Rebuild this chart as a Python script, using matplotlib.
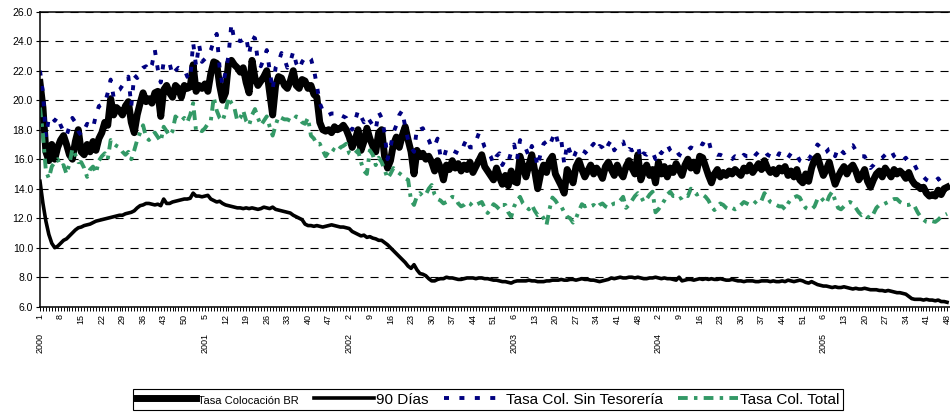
import numpy as np
import matplotlib.pyplot as plt
from matplotlib.transforms import blended_transform_factory

plt.rcParams['font.family'] = ['Liberation Sans', 'DejaVu Sans']
plt.rcParams['lines.scale_dashes'] = False

years = [2000, 2001, 2002, 2003, 2004, 2005]
weeks_per_year = [52, 52, 52, 53, 52, 48]

# weekly rates, one row block per year
tasa_br = [
    21.2, 19.5, 16.5, 15.9, 17.0, 16.0, 16.8, 17.3, 17.6, 17.0, 16.3, 16.0, 17.2, 18.0, 16.5, 16.3, 17.0, 16.5,
    17.2, 16.6, 17.4, 17.8, 18.5, 18.3, 20.1, 19.0, 19.5, 19.3, 19.0, 19.6, 19.9, 18.5, 17.8, 19.0, 19.8, 20.5,
    19.9, 20.1, 19.8, 20.5, 20.6, 18.9, 20.7, 21.0, 20.5, 20.2, 21.0, 20.8, 20.2, 21.0, 20.8, 20.9,
    22.4, 20.6, 21.0, 20.8, 21.1, 20.6, 21.8, 22.6, 22.5, 21.0, 20.0, 20.5, 22.5, 22.7, 22.4, 22.2, 21.9, 22.2,
    21.2, 20.5, 22.7, 21.5, 21.0, 21.3, 21.6, 22.0, 20.5, 19.0, 21.0, 21.6, 21.5, 21.0, 20.8, 21.3, 22.0, 21.0,
    20.8, 21.4, 21.3, 20.8, 21.0, 20.4, 20.2, 18.5, 18.0, 17.9, 18.0, 17.8, 18.2, 18.0, 18.1, 18.3,
    18.0, 17.5, 16.8, 17.3, 18.0, 16.6, 17.2, 18.1, 17.4, 16.9, 16.5, 17.8, 18.0, 16.2, 15.4, 15.9, 17.0, 17.5,
    16.8, 17.6, 18.2, 17.3, 16.5, 15.0, 16.6, 16.2, 16.4, 16.0, 16.2, 15.8, 15.2, 15.9, 15.4, 14.6, 15.6, 15.3,
    15.9, 15.4, 15.7, 15.2, 15.6, 15.3, 15.8, 15.1, 15.5, 15.9, 16.3, 15.5, 15.2, 14.9, 14.6, 15.4,
    14.8, 14.3, 14.9, 14.2, 15.2, 14.5, 14.4, 16.2, 15.5, 14.8, 15.6, 16.3, 15.2, 14.0, 15.0, 15.6, 15.1, 15.9,
    16.2, 15.0, 14.6, 14.2, 13.7, 15.3, 14.9, 14.4, 15.5, 15.9, 15.3, 14.8, 15.2, 15.6, 15.0, 15.4, 15.1, 14.7,
    15.5, 15.8, 15.3, 14.9, 15.6, 15.1, 14.8, 15.5, 15.9, 15.4, 15.0, 16.3, 14.6, 15.2, 15.6, 14.9, 15.3,
    14.4, 15.8, 15.0, 15.5, 14.8, 15.4, 15.1, 15.7, 15.3, 14.9, 15.6, 16.0, 15.4, 15.8, 15.2, 16.2, 16.1, 15.5,
    14.9, 14.4, 15.0, 15.3, 14.8, 15.1, 14.9, 15.2, 15.0, 15.3, 15.1, 14.9, 15.4, 15.2, 15.6, 15.1, 15.4, 15.7,
    15.3, 15.9, 15.4, 15.1, 15.3, 15.0, 15.4, 15.2, 15.5, 14.9, 15.2, 14.8, 15.3, 14.6, 14.4, 15.0,
    14.5, 15.4, 16.0, 16.2, 15.5, 14.9, 15.3, 15.8, 15.0, 14.3, 14.8, 15.2, 15.5, 15.0, 15.4, 15.6, 15.2, 14.6,
    14.9, 15.3, 14.5, 14.1, 14.6, 15.0, 15.2, 14.8, 15.4, 15.1, 14.8, 15.3, 15.0, 15.2, 15.0, 14.7, 15.1, 14.6,
    14.3, 14.2, 14.0, 14.1, 13.7, 13.5, 13.6, 13.5, 13.9, 13.6, 14.0, 14.1,
]

dtf_90 = [
    14.5, 13.0, 11.8, 10.9, 10.3, 10.0, 10.1, 10.3, 10.5, 10.6, 10.8, 11.0, 11.2, 11.35, 11.4, 11.5, 11.55, 11.6,
    11.7, 11.8, 11.85, 11.9, 11.95, 12.0, 12.05, 12.1, 12.15, 12.2, 12.2, 12.3, 12.35, 12.4, 12.5, 12.7, 12.85,
    12.9, 13.0, 13.0, 12.95, 12.9, 12.95, 12.85, 13.3, 13.0, 13.0, 13.1, 13.15, 13.2, 13.25, 13.3, 13.3, 13.35,
    13.7, 13.5, 13.5, 13.45, 13.5, 13.55, 13.3, 13.2, 13.1, 13.15, 13.0, 12.9, 12.85, 12.8, 12.75, 12.7, 12.7,
    12.65, 12.7, 12.65, 12.7, 12.65, 12.6, 12.65, 12.75, 12.7, 12.65, 12.75, 12.6, 12.55, 12.5, 12.45, 12.4,
    12.35, 12.2, 12.1, 12.0, 11.9, 11.6, 11.5, 11.5, 11.45, 11.5, 11.45, 11.4, 11.45, 11.5, 11.55, 11.5, 11.45,
    11.4, 11.4,
    11.35, 11.3, 11.1, 11.0, 10.9, 10.8, 10.85, 10.7, 10.75, 10.65, 10.6, 10.5, 10.5, 10.35, 10.2, 10.0, 9.8,
    9.6, 9.4, 9.2, 9.0, 8.75, 8.6, 8.85, 8.5, 8.25, 8.2, 8.1, 7.9, 7.75, 7.75, 7.85, 7.9, 7.9, 8.0, 7.95, 7.95,
    7.9, 7.85, 7.85, 7.9, 7.95, 7.95, 7.95, 7.9, 7.95, 7.95, 7.9, 7.9, 7.85, 7.8, 7.8,
    7.75, 7.7, 7.7, 7.65, 7.6, 7.7, 7.75, 7.75, 7.75, 7.75, 7.8, 7.75, 7.75, 7.7, 7.7, 7.7, 7.75, 7.75, 7.8,
    7.8, 7.8, 7.85, 7.8, 7.8, 7.85, 7.85, 7.8, 7.85, 7.9, 7.85, 7.85, 7.8, 7.8, 7.75, 7.7, 7.75, 7.8, 7.85,
    7.95, 7.9, 7.95, 8.0, 7.95, 7.95, 8.0, 8.0, 7.95, 8.0, 7.95, 7.9, 7.9, 7.95, 7.95,
    8.0, 7.95, 7.9, 7.95, 7.9, 7.9, 7.85, 7.8, 8.0, 7.75, 7.8, 7.85, 7.85, 7.8, 7.85, 7.9, 7.85, 7.9, 7.85,
    7.9, 7.85, 7.85, 7.9, 7.85, 7.8, 7.8, 7.85, 7.8, 7.75, 7.75, 7.7, 7.75, 7.75, 7.75, 7.7, 7.7, 7.75, 7.75,
    7.75, 7.7, 7.75, 7.7, 7.7, 7.75, 7.7, 7.8, 7.75, 7.7, 7.75, 7.8, 7.75, 7.65,
    7.6, 7.7, 7.6, 7.5, 7.45, 7.4, 7.4, 7.35, 7.3, 7.35, 7.3, 7.3, 7.35, 7.3, 7.25, 7.2, 7.25, 7.2, 7.2, 7.25,
    7.2, 7.15, 7.15, 7.15, 7.1, 7.1, 7.05, 7.1, 7.05, 7.0, 6.95, 6.95, 6.9, 6.85, 6.7, 6.55, 6.5, 6.5, 6.5,
    6.45, 6.5, 6.45, 6.45, 6.4, 6.45, 6.35, 6.35, 6.3,
]

sin_tesoreria = [
    22.0, 20.5, 17.5, 18.8, 18.9, 18.6, 18.9, 18.3, 17.9, 17.6, 18.2, 18.8, 18.5, 17.9, 17.6, 18.0, 18.4, 18.3,
    18.1, 19.0, 19.6, 19.7, 19.8, 20.5, 21.4, 20.2, 20.6, 20.7, 21.0, 21.3, 21.6, 19.6, 21.7, 21.5, 22.0, 22.2,
    22.3, 22.0, 22.4, 23.4, 22.1, 21.2, 22.6, 22.6, 22.5, 21.7, 22.0, 22.2, 22.1, 22.1, 21.6, 21.4,
    23.9, 22.3, 23.8, 22.6, 22.8, 23.0, 23.4, 24.0, 24.5, 22.2, 21.0, 21.9, 23.0, 25.2, 24.0, 24.1, 24.0, 24.1,
    24.3, 23.1, 24.3, 24.2, 22.6, 22.3, 22.8, 23.4, 22.0, 20.7, 22.2, 22.6, 23.2, 22.8, 22.2, 22.6, 23.3, 22.5,
    22.1, 22.6, 22.9, 23.0, 22.8, 22.1, 21.0, 19.8, 19.3, 19.0, 19.0, 19.1, 19.1, 18.9, 19.0, 18.9,
    18.8, 18.4, 18.0, 18.6, 19.3, 18.9, 18.5, 18.9, 18.6, 18.3, 18.0, 19.2, 18.8, 17.8, 16.0, 16.8, 17.8, 18.3,
    19.0, 19.3, 18.2, 17.3, 16.8, 16.5, 18.1, 18.0, 18.1, 17.6, 17.3, 16.8, 16.9, 17.4, 16.2, 16.0, 16.7, 16.8,
    16.6, 16.5, 16.4, 16.4, 17.0, 17.4, 16.8, 16.8, 17.2, 17.75, 17.4, 16.8, 16.5, 16.2, 15.7, 16.2,
    16.4, 15.6, 16.0, 15.8, 16.5, 17.0, 16.0, 17.3, 16.8, 16.7, 16.2, 16.9, 16.4, 15.5, 16.4, 17.05, 17.2, 16.9,
    17.4, 17.85, 17.0, 17.3, 15.7, 17.05, 16.5, 16.0, 16.5, 16.8, 16.6, 16.5, 16.3, 16.8, 17.05, 16.6, 16.9,
    16.8, 16.5, 17.0, 17.3, 16.6, 16.9, 17.2, 17.2, 16.5, 16.7, 16.6, 16.7, 16.95, 16.0, 16.4, 16.3, 16.5, 16.5,
    16.0, 16.6, 16.4, 16.7, 17.0, 16.6, 16.4, 16.6, 16.3, 16.2, 16.4, 16.6, 16.8, 16.7, 16.9, 17.1, 17.0, 17.4,
    17.3, 16.5, 16.4, 16.3, 16.3, 16.2, 16.1, 16.0, 16.0, 16.2, 16.1, 16.0, 16.3, 16.2, 16.2, 16.0, 16.3, 16.5,
    16.5, 16.6, 16.3, 16.2, 16.2, 16.0, 16.4, 16.3, 16.4, 16.1, 16.4, 16.2, 16.3, 15.9, 15.8, 16.1,
    16.0, 16.3, 16.6, 17.0, 16.8, 16.4, 16.5, 16.7, 16.75, 16.2, 16.8, 16.6, 16.4, 16.6, 16.9, 16.95, 16.6,
    16.4, 16.2, 16.2, 15.8, 15.4, 15.6, 15.9, 16.0, 16.1, 16.3, 16.5, 16.6, 16.2, 16.0, 16.0, 15.9, 16.1, 15.8,
    15.6, 15.6, 15.2, 15.0, 14.8, 14.6, 14.5, 14.4, 14.5, 14.7, 14.4, 14.6, 14.5,
]

col_total = [
    19.5, 17.7, 15.2, 14.7, 15.5, 15.8, 16.0, 15.5, 15.6, 15.0, 15.7, 16.7, 16.3, 15.8, 15.8, 15.4, 14.8, 15.3,
    15.5, 15.05, 15.9, 16.2, 16.4, 16.0, 17.3, 17.05, 16.9, 16.8, 16.5, 16.3, 16.5, 16.0, 16.6, 17.3, 17.8, 18.3,
    17.5, 17.3, 17.6, 17.8, 17.5, 17.2, 18.2, 17.9, 17.6, 17.9, 18.9, 18.7, 18.6, 18.8, 18.5, 19.0,
    19.8, 17.9, 18.0, 17.9, 18.1, 18.4, 18.6, 20.2, 19.3, 18.8, 18.6, 19.2, 20.2, 19.8, 19.5, 18.6, 18.8, 19.3,
    18.6, 18.3, 19.0, 19.4, 18.8, 18.3, 18.6, 18.9, 18.2, 17.6, 18.3, 18.9, 18.8, 18.7, 18.7, 18.6, 18.6, 18.9,
    18.8, 18.5, 18.4, 18.8, 17.6, 17.4, 17.0, 17.05, 16.6, 16.2, 16.5, 16.75, 16.6, 16.5, 16.8, 16.9,
    17.05, 16.4, 16.3, 16.4, 16.6, 15.8, 15.2, 15.0, 16.6, 16.3, 15.6, 16.1, 15.8, 15.3, 14.7, 15.0, 15.4, 15.2,
    15.05, 14.9, 14.7, 14.6, 13.2, 12.9, 13.5, 13.7, 13.5, 13.6, 14.0, 14.25, 13.6, 13.3, 13.2, 13.0, 13.1, 13.3,
    13.45, 13.4, 13.0, 12.8, 12.9, 13.1, 13.0, 12.8, 12.9, 13.0, 13.1, 12.7, 12.35, 12.6, 12.95, 12.8,
    12.6, 12.9, 12.9, 12.4, 12.1, 12.8, 13.2, 13.45, 13.0, 12.8, 12.6, 12.9, 12.5, 12.2, 12.3, 12.0, 11.55, 12.6,
    13.4, 13.2, 12.9, 12.8, 12.4, 12.1, 12.0, 11.7, 12.0, 12.5, 12.95, 12.8, 12.9, 12.8, 12.9, 12.7, 12.9, 13.0,
    12.8, 12.7, 12.9, 13.0, 13.0, 13.2, 13.45, 12.7, 12.9, 13.2, 13.5, 13.7, 13.5, 13.1, 13.3, 13.6, 13.8,
    12.4, 12.6, 12.9, 13.2, 13.6, 13.8, 13.5, 13.5, 13.3, 13.4, 13.6, 13.5, 14.0, 13.9, 13.6, 13.7, 13.6, 13.45,
    13.2, 12.8, 12.55, 12.8, 13.0, 12.9, 12.7, 12.6, 12.7, 12.6, 12.7, 12.9, 13.1, 13.0, 12.9, 12.9, 13.1, 13.3,
    13.2, 13.7, 13.4, 13.1, 13.0, 12.9, 12.8, 12.8, 12.6, 13.0, 13.3, 13.4, 13.5, 13.4, 13.0, 12.7,
    12.6, 12.6, 12.8, 13.3, 13.45, 13.2, 13.0, 13.5, 13.8, 13.2, 12.7, 12.6, 12.8, 13.0, 13.1, 13.0, 12.7, 12.4,
    12.2, 12.3, 12.1, 12.0, 12.3, 12.7, 12.9, 12.9, 13.0, 13.1, 13.2, 13.3, 13.3, 13.1, 13.0, 12.9, 12.9, 13.0,
    12.8, 12.4, 12.1, 11.9, 11.75, 11.7, 11.8, 11.75, 11.9, 12.1, 12.2, 12.3,
]

weeks = []
year_of = []
for yr, n in zip(years, weeks_per_year):
    weeks += list(range(1, n + 1))
    year_of += [yr] * n
x = np.arange(len(weeks))

fig = plt.figure(figsize=(9.5, 4.15), dpi=100)
ax = fig.add_axes([40 / 950, 1 - 306.7 / 415, 910 / 950, 295 / 415])

ax.plot(x, tasa_br, color='black', lw=5.0, solid_joinstyle='round', label='Tasa Colocación BR')
ax.plot(x, dtf_90, color='black', lw=2.6, solid_joinstyle='round', label='90 Días')
ax.plot(x, sin_tesoreria, color='#000080', lw=2.8, dashes=(3.6, 7.5), label='Tasa Col. Sin Tesorería')
ax.plot(x, col_total, color='#339966', lw=2.8, dashes=(7, 4.5, 2.5, 4.5), label='Tasa Col. Total')

ax.set_ylim(6, 26)
ax.set_xlim(0, len(x))
ax.set_yticks(np.arange(6, 27, 2))
ax.set_yticklabels([f'{v:.1f}' for v in np.arange(6, 27, 2)])
ax.yaxis.grid(True, color='black', lw=0.8, linestyle=(0, (5.8, 5)))
ax.set_axisbelow(True)

for s in ['left', 'bottom', 'top']:
    ax.spines[s].set_color('black')
    ax.spines[s].set_linewidth(1.1)
ax.spines['right'].set_visible(False)

major = x[::7]
ax.set_xticks(major)
ax.set_xticklabels([str(weeks[i]) for i in major], rotation=90)
ax.set_xticks(x, minor=True)
ax.tick_params(axis='x', which='both', length=3, width=0.7, labelsize=6.5, pad=2)
ax.tick_params(axis='y', length=3, width=0.8, labelsize=7.5, pad=2)

trans = blended_transform_factory(ax.transData, ax.transAxes)
for yr in years:
    first = [i for i in major if year_of[i] == yr][0]
    ax.text(first, -0.088, str(yr), transform=trans, rotation=90,
            ha='center', va='top', fontsize=6.5)

leg = ax.legend(loc='center', bbox_to_anchor=(488 / 950, 1 - 399.5 / 415),
                bbox_transform=fig.transFigure, ncol=4, fontsize=11,
                frameon=True, fancybox=False, edgecolor='black', framealpha=1,
                borderpad=0.2, handlelength=3.9, handletextpad=0.15,
                columnspacing=1.0, borderaxespad=0)
leg.get_frame().set_linewidth(0.8)
leg.get_texts()[0].set_fontsize(8)

fig.savefig('out.png', dpi=100)
